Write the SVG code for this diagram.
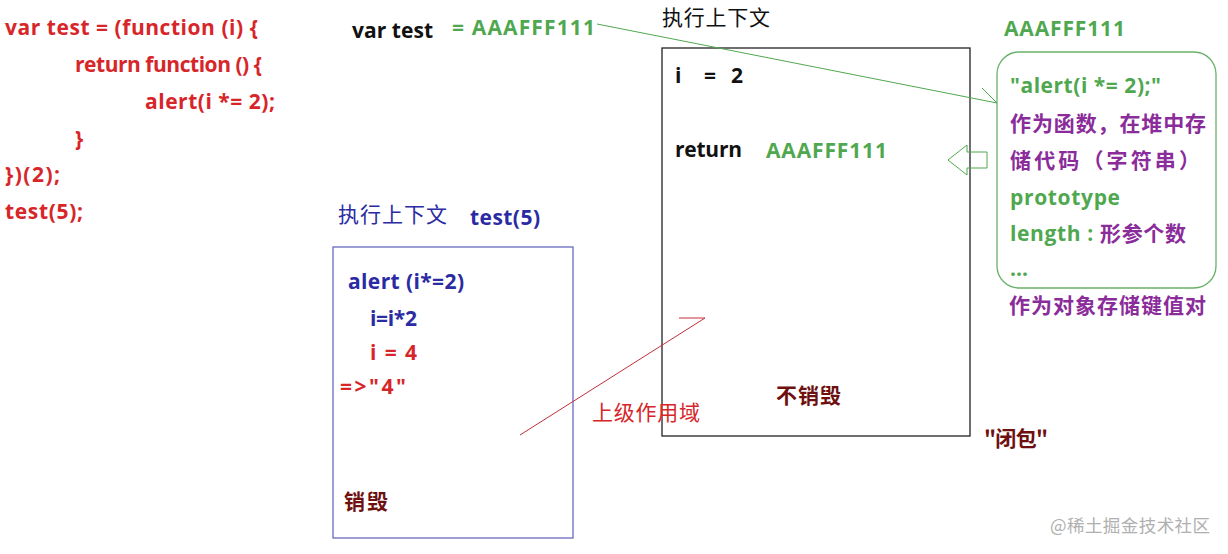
<svg xmlns="http://www.w3.org/2000/svg" width="1228" height="554" viewBox="0 0 1228 554">
<style>
text{font-family:"Open Sans","Noto Sans CJK SC",sans-serif;font-weight:bold;font-size:21px}
.c{font-family:"Noto Sans CJK SC",sans-serif;font-size:21px}
.n{font-weight:normal}
.r{fill:#d7262a}.g{fill:#4fa84f}.p{fill:#8a2c9a}.b{fill:#2b2ba3}.k{fill:#111}.d{fill:#6e1010}
.w{fill:#b0b0b0;font-weight:normal;font-size:17.5px;font-family:"Noto Sans CJK SC",sans-serif}
</style>
<rect width="1228" height="554" fill="#fff"/>
<g id="code">
<text class="r" x="5" y="35" textLength="253">var test = (function (i) {</text>
<text class="r" x="75" y="72" textLength="187">return function () {</text>
<text class="r" x="145" y="109" textLength="130">alert(i *= 2);</text>
<text class="r" x="75" y="146">}</text>
<text class="r" x="5" y="182" textLength="55">})(2);</text>
<text class="r" x="5" y="219" textLength="78">test(5);</text>
</g>
<g id="vartest">
<text class="k" x="352" y="38" textLength="81">var test</text>
<text class="g" x="452" y="35" textLength="143">= AAAFFF111</text>
</g>
<g id="outer-context">
<text class="k c n" x="662" y="25" textLength="108">执行上下文</text>
<rect x="662" y="48" width="308" height="388" fill="none" stroke="#222" stroke-width="1.3"/>
<text class="k" x="675" y="83">i</text>
<text class="k" x="704" y="83">=</text>
<text class="k" x="731" y="83">2</text>
<text class="k" x="675" y="157" textLength="67">return</text>
<text class="g" x="766" y="158" textLength="121">AAAFFF111</text>
<text class="d c" x="776" y="403" textLength="65">不销毁</text>
</g>
<g id="closure-label">
<text class="d c" x="984" y="446" textLength="64">"闭包"</text>
</g>
<g id="heap">
<text class="g" x="1004" y="36" textLength="121">AAAFFF111</text>
<rect x="997" y="52" width="219" height="236" rx="22" fill="none" stroke="#6ab06a" stroke-width="1.3"/>
<text class="g" x="1010" y="93" textLength="151">"alert(i *= 2);"</text>
<text class="p c" x="1010" y="131" textLength="196">作为函数，在堆中存</text>
<text class="p c" x="1010" y="168" textLength="190">储代码（字符串）</text>
<text class="g" x="1010" y="205" textLength="110">prototype</text>
<text class="g" x="1010" y="241" textLength="176">length : <tspan class="p c">形参个数</tspan></text>
<text class="g" x="1010" y="276">...</text>
<text class="p c" x="1009" y="313" textLength="197">作为对象存储键值对</text>
</g>
<g id="inner-context">
<text class="b c n" x="338" y="222" textLength="109">执行上下文</text>
<text class="b" x="470" y="225" textLength="70">test(5)</text>
<rect x="333" y="247" width="240" height="291" fill="none" stroke="#6a6ac0" stroke-width="1.3"/>
<text class="b" x="348" y="289" textLength="116">alert (i*=2)</text>
<text class="b" x="370" y="326" textLength="47">i=i*2</text>
<text class="r" x="370" y="360" textLength="47">i = 4</text>
<text class="r" x="340" y="394" textLength="66">=&gt;"4"</text>
<text class="d c" x="344" y="509" textLength="44">销毁</text>
</g>
<g id="scope-label">
<text class="r c n" x="592" y="420" textLength="108">上级作用域</text>
</g>
<g id="connectors" fill="none">
<path d="M597 24 L997 103 M982 88 L997 103" stroke="#4fa84f" stroke-width="1"/>
<path d="M987 152 L967 152 L967 145 L948 160 L967 175 L967 168 L987 168 Z" stroke="#4fa84f" stroke-width="1"/>
<path d="M520 435 L705 318 M679 318 L705 318" stroke="#c0303a" stroke-width="1"/>
</g>
<g id="watermark">
<text class="w" x="1050" y="532" textLength="160">@稀土掘金技术社区</text>
</g>
</svg>
